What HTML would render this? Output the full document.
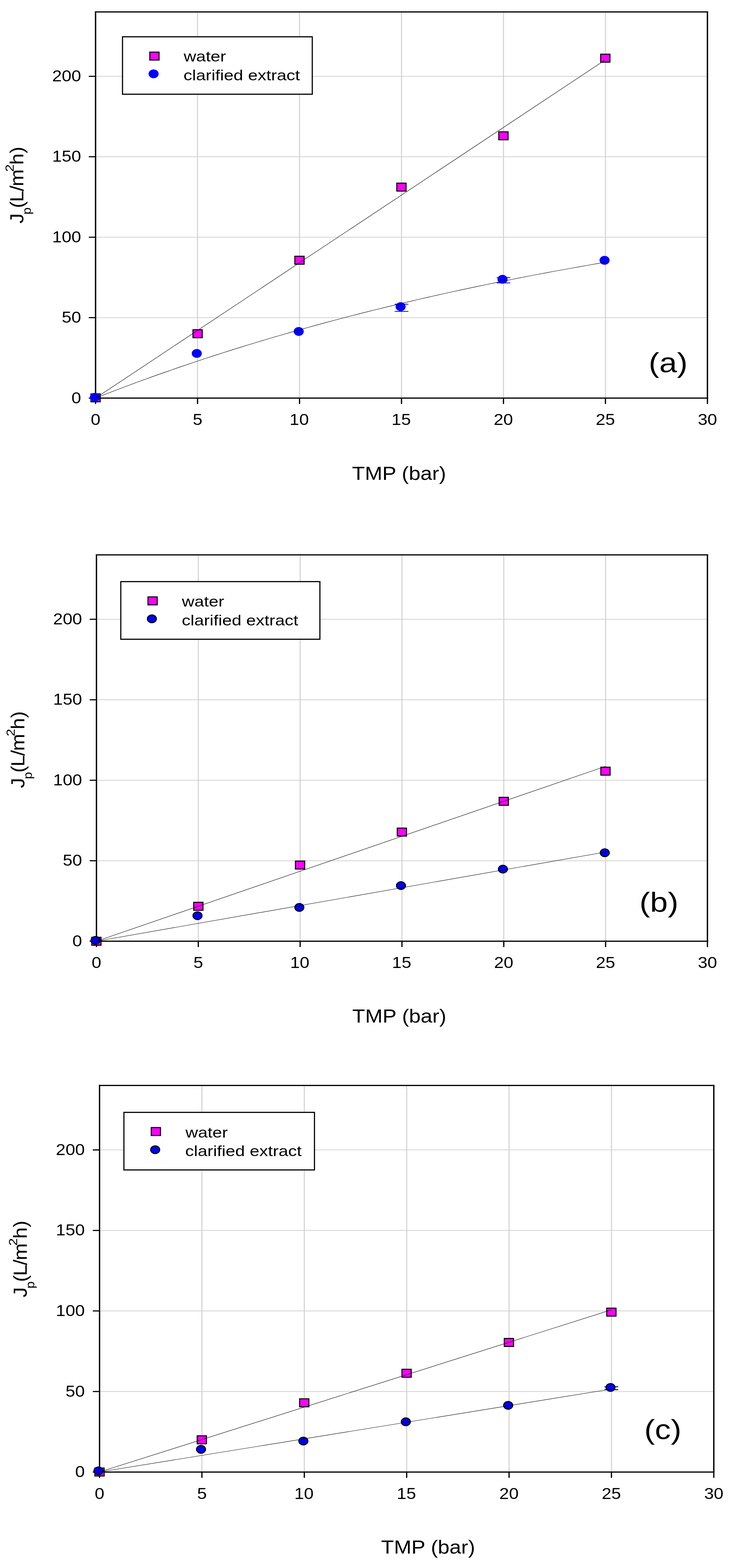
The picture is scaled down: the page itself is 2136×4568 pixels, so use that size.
<!DOCTYPE html>
<html><head><meta charset="utf-8"><title>Permeate flux vs TMP</title>
<style>html,body{margin:0;padding:0;background:#fff;}svg{display:block;}text{font-family:'Liberation Sans', Arial, sans-serif;fill:#000;}</style></head><body>
<svg width="2136" height="4568" viewBox="0 0 2136 4568">
<rect x="0" y="0" width="2136" height="4568" fill="#fff"/>
<g stroke="#d2d2d2" fill="none">
<line x1="575.67" y1="34.80" x2="575.67" y2="1159.80" stroke-width="3.0"/>
<line x1="872.83" y1="34.80" x2="872.83" y2="1159.80" stroke-width="3.0"/>
<line x1="1170.00" y1="34.80" x2="1170.00" y2="1159.80" stroke-width="3.0"/>
<line x1="1467.17" y1="34.80" x2="1467.17" y2="1159.80" stroke-width="3.0"/>
<line x1="1764.33" y1="34.80" x2="1764.33" y2="1159.80" stroke-width="3.0"/>
<line x1="278.50" y1="925.42" x2="2061.50" y2="925.42" stroke-width="2.2"/>
<line x1="278.50" y1="691.05" x2="2061.50" y2="691.05" stroke-width="2.2"/>
<line x1="278.50" y1="456.67" x2="2061.50" y2="456.67" stroke-width="2.2"/>
<line x1="278.50" y1="222.30" x2="2061.50" y2="222.30" stroke-width="2.2"/>
</g>
<g stroke="#000" fill="none">
<line x1="276.50" y1="34.80" x2="2063.50" y2="34.80" stroke-width="3.5"/>
<line x1="276.50" y1="1159.80" x2="2063.50" y2="1159.80" stroke-width="3.5"/>
<line x1="278.50" y1="33.10" x2="278.50" y2="1161.50" stroke-width="3.9"/>
<line x1="2061.50" y1="33.10" x2="2061.50" y2="1161.50" stroke-width="3.9"/>
<line x1="278.50" y1="1159.80" x2="278.50" y2="1175.40" stroke-width="3.6" stroke-linecap="round"/>
<line x1="575.67" y1="1159.80" x2="575.67" y2="1175.40" stroke-width="3.6" stroke-linecap="round"/>
<line x1="872.83" y1="1159.80" x2="872.83" y2="1175.40" stroke-width="3.6" stroke-linecap="round"/>
<line x1="1170.00" y1="1159.80" x2="1170.00" y2="1175.40" stroke-width="3.6" stroke-linecap="round"/>
<line x1="1467.17" y1="1159.80" x2="1467.17" y2="1175.40" stroke-width="3.6" stroke-linecap="round"/>
<line x1="1764.33" y1="1159.80" x2="1764.33" y2="1175.40" stroke-width="3.6" stroke-linecap="round"/>
<line x1="2061.50" y1="1159.80" x2="2061.50" y2="1175.40" stroke-width="3.6" stroke-linecap="round"/>
<line x1="278.50" y1="1159.80" x2="260.10" y2="1159.80" stroke-width="3.3" stroke-linecap="round"/>
<line x1="278.50" y1="925.42" x2="260.10" y2="925.42" stroke-width="3.3" stroke-linecap="round"/>
<line x1="278.50" y1="691.05" x2="260.10" y2="691.05" stroke-width="3.3" stroke-linecap="round"/>
<line x1="278.50" y1="456.67" x2="260.10" y2="456.67" stroke-width="3.3" stroke-linecap="round"/>
<line x1="278.50" y1="222.30" x2="260.10" y2="222.30" stroke-width="3.3" stroke-linecap="round"/>
</g>
<text transform="translate(208.18,1174.60) scale(1.1100,1)" font-size="45.5">0</text>
<text transform="translate(180.10,940.22) scale(1.1100,1)" font-size="45.5">50</text>
<text transform="translate(152.01,705.85) scale(1.1100,1)" font-size="45.5">100</text>
<text transform="translate(152.01,471.47) scale(1.1100,1)" font-size="45.5">150</text>
<text transform="translate(152.01,237.10) scale(1.1100,1)" font-size="45.5">200</text>
<text transform="translate(264.46,1237.90) scale(1.1100,1)" font-size="45.5">0</text>
<text transform="translate(561.67,1237.90) scale(1.1100,1)" font-size="45.5">5</text>
<text transform="translate(843.81,1237.90) scale(1.1100,1)" font-size="45.5">10</text>
<text transform="translate(1141.05,1237.90) scale(1.1100,1)" font-size="45.5">15</text>
<text transform="translate(1438.79,1237.90) scale(1.1100,1)" font-size="45.5">20</text>
<text transform="translate(1736.04,1237.90) scale(1.1100,1)" font-size="45.5">25</text>
<text transform="translate(2033.44,1237.90) scale(1.1100,1)" font-size="45.5">30</text>
<text transform="translate(1025.83,1397.60) scale(1.0920,1)" font-size="56.0">TMP (bar)</text>
<text transform="translate(68.00,651.20) rotate(-90) scale(1.09,1)"><tspan x="-0.03" dy="0.00" font-size="55.0">J</tspan><tspan x="24.01" dy="21.70" font-size="34.5">p</tspan><tspan x="41.27" dy="-21.70" font-size="55.0">(</tspan><tspan x="57.51" dy="0.00" font-size="55.0">L</tspan><tspan x="86.15" dy="0.00" font-size="55.0">/</tspan><tspan x="99.19" dy="0.00" font-size="55.0">m</tspan><tspan x="138.37" dy="-28.20" font-size="36.0">2</tspan><tspan x="156.83" dy="28.20" font-size="55.0">h</tspan><tspan x="187.29" dy="0.00" font-size="55.0">)</tspan></text>
<g stroke="#0000ff" stroke-width="2.2" stroke-linecap="round"><line x1="1151.20" y1="886.20" x2="1189.20" y2="886.20"/><line x1="1151.20" y1="907.20" x2="1189.20" y2="907.20"/><line x1="1170.20" y1="886.20" x2="1170.20" y2="907.20"/></g>
<g stroke="#0000ff" stroke-width="2.2" stroke-linecap="round"><line x1="1448.20" y1="808.60" x2="1486.20" y2="808.60"/><line x1="1448.20" y1="824.10" x2="1486.20" y2="824.10"/><line x1="1467.20" y1="808.60" x2="1467.20" y2="824.10"/></g>
<rect x="263.50" y="1145.90" width="30" height="26.2" fill="#000"/><rect x="266.50" y="1148.90" width="24" height="20.2" fill="#ff00ff"/>
<rect x="560.80" y="959.10" width="30" height="26.2" fill="#000"/><rect x="563.80" y="962.10" width="24" height="20.2" fill="#ff00ff"/>
<rect x="857.70" y="745.00" width="30" height="26.2" fill="#000"/><rect x="860.70" y="748.00" width="24" height="20.2" fill="#ff00ff"/>
<rect x="1154.80" y="532.00" width="30" height="26.2" fill="#000"/><rect x="1157.80" y="535.00" width="24" height="20.2" fill="#ff00ff"/>
<rect x="1452.00" y="382.50" width="30" height="26.2" fill="#000"/><rect x="1455.00" y="385.50" width="24" height="20.2" fill="#ff00ff"/>
<rect x="1748.90" y="156.40" width="30" height="26.2" fill="#000"/><rect x="1751.90" y="159.40" width="24" height="20.2" fill="#ff00ff"/>
<ellipse cx="276.50" cy="1157.40" rx="14.6" ry="12.9" fill="#0000ff"/>
<ellipse cx="573.40" cy="1029.70" rx="14.6" ry="12.9" fill="#0000ff"/>
<ellipse cx="870.50" cy="965.60" rx="14.6" ry="12.9" fill="#0000ff"/>
<ellipse cx="1167.40" cy="893.50" rx="14.6" ry="12.9" fill="#0000ff"/>
<ellipse cx="1464.40" cy="813.70" rx="14.6" ry="12.9" fill="#0000ff"/>
<ellipse cx="1761.70" cy="758.40" rx="14.6" ry="12.9" fill="#0000ff"/>
<polyline points="278.50,1159.70 1764.20,174.20" fill="none" stroke="#000" stroke-width="1.15"/>
<polyline points="278.50,1159.70 303.26,1150.01 328.02,1140.46 352.79,1131.03 377.55,1121.74 402.31,1112.58 427.07,1103.55 451.84,1094.64 476.60,1085.86 501.36,1077.20 526.12,1068.66 550.89,1060.24 575.65,1051.94 600.41,1043.75 625.17,1035.67 649.94,1027.71 674.70,1019.86 699.46,1012.12 724.23,1004.49 748.99,996.96 773.75,989.54 798.51,982.22 823.27,975.01 848.04,967.89 872.80,960.87 897.56,953.95 922.33,947.13 947.09,940.40 971.85,933.77 996.61,927.23 1021.38,920.78 1046.14,914.42 1070.90,908.15 1095.66,901.96 1120.42,895.86 1145.19,889.85 1169.95,883.92 1194.71,878.07 1219.47,872.31 1244.24,866.62 1269.00,861.02 1293.76,855.49 1318.53,850.04 1343.29,844.67 1368.05,839.37 1392.81,834.14 1417.58,828.99 1442.34,823.91 1467.10,818.89 1491.86,813.95 1516.62,809.08 1541.39,804.28 1566.15,799.54 1590.91,794.87 1615.67,790.26 1640.44,785.72 1665.20,781.24 1689.96,776.83 1714.73,772.47 1739.49,768.18 1764.25,763.95" fill="none" stroke="#000" stroke-width="1.15" stroke-linejoin="round"/>
<rect x="357.00" y="107.20" width="553.00" height="167.30" fill="#fff" stroke="#000" stroke-width="3.3"/>
<rect x="435.00" y="150.30" width="30" height="26.2" fill="#000"/><rect x="438.00" y="153.30" width="24" height="20.2" fill="#ff00ff"/>
<ellipse cx="447.60" cy="215.20" rx="14.6" ry="12.9" fill="#0000ff"/>
<text transform="translate(535.17,178.80) scale(1.1650,1)" font-size="43.3">water</text>
<text transform="translate(534.86,233.70) scale(1.1650,1)" font-size="43.3">clarified extract</text>
<text transform="translate(1890.35,1084.10) scale(1.1600,1)" font-size="80.0">(a)</text>
<g stroke="#d2d2d2" fill="none">
<line x1="577.83" y1="1616.60" x2="577.83" y2="2742.00" stroke-width="3.0"/>
<line x1="874.57" y1="1616.60" x2="874.57" y2="2742.00" stroke-width="3.0"/>
<line x1="1171.30" y1="1616.60" x2="1171.30" y2="2742.00" stroke-width="3.0"/>
<line x1="1468.03" y1="1616.60" x2="1468.03" y2="2742.00" stroke-width="3.0"/>
<line x1="1764.77" y1="1616.60" x2="1764.77" y2="2742.00" stroke-width="3.0"/>
<line x1="281.10" y1="2507.54" x2="2061.50" y2="2507.54" stroke-width="2.2"/>
<line x1="281.10" y1="2273.08" x2="2061.50" y2="2273.08" stroke-width="2.2"/>
<line x1="281.10" y1="2038.62" x2="2061.50" y2="2038.62" stroke-width="2.2"/>
<line x1="281.10" y1="1804.17" x2="2061.50" y2="1804.17" stroke-width="2.2"/>
</g>
<g stroke="#000" fill="none">
<line x1="279.10" y1="1616.60" x2="2063.50" y2="1616.60" stroke-width="3.5"/>
<line x1="279.10" y1="2742.00" x2="2063.50" y2="2742.00" stroke-width="3.5"/>
<line x1="281.10" y1="1614.90" x2="281.10" y2="2743.70" stroke-width="3.9"/>
<line x1="2061.50" y1="1614.90" x2="2061.50" y2="2743.70" stroke-width="3.9"/>
<line x1="281.10" y1="2742.00" x2="281.10" y2="2757.60" stroke-width="3.6" stroke-linecap="round"/>
<line x1="577.83" y1="2742.00" x2="577.83" y2="2757.60" stroke-width="3.6" stroke-linecap="round"/>
<line x1="874.57" y1="2742.00" x2="874.57" y2="2757.60" stroke-width="3.6" stroke-linecap="round"/>
<line x1="1171.30" y1="2742.00" x2="1171.30" y2="2757.60" stroke-width="3.6" stroke-linecap="round"/>
<line x1="1468.03" y1="2742.00" x2="1468.03" y2="2757.60" stroke-width="3.6" stroke-linecap="round"/>
<line x1="1764.77" y1="2742.00" x2="1764.77" y2="2757.60" stroke-width="3.6" stroke-linecap="round"/>
<line x1="2061.50" y1="2742.00" x2="2061.50" y2="2757.60" stroke-width="3.6" stroke-linecap="round"/>
<line x1="281.10" y1="2742.00" x2="262.70" y2="2742.00" stroke-width="3.3" stroke-linecap="round"/>
<line x1="281.10" y1="2507.54" x2="262.70" y2="2507.54" stroke-width="3.3" stroke-linecap="round"/>
<line x1="281.10" y1="2273.08" x2="262.70" y2="2273.08" stroke-width="3.3" stroke-linecap="round"/>
<line x1="281.10" y1="2038.62" x2="262.70" y2="2038.62" stroke-width="3.3" stroke-linecap="round"/>
<line x1="281.10" y1="1804.17" x2="262.70" y2="1804.17" stroke-width="3.3" stroke-linecap="round"/>
</g>
<text transform="translate(210.98,2756.80) scale(1.1100,1)" font-size="45.5">0</text>
<text transform="translate(182.90,2522.34) scale(1.1100,1)" font-size="45.5">50</text>
<text transform="translate(154.81,2287.88) scale(1.1100,1)" font-size="45.5">100</text>
<text transform="translate(154.81,2053.43) scale(1.1100,1)" font-size="45.5">150</text>
<text transform="translate(154.81,1818.97) scale(1.1100,1)" font-size="45.5">200</text>
<text transform="translate(267.06,2819.80) scale(1.1100,1)" font-size="45.5">0</text>
<text transform="translate(563.84,2819.80) scale(1.1100,1)" font-size="45.5">5</text>
<text transform="translate(845.54,2819.80) scale(1.1100,1)" font-size="45.5">10</text>
<text transform="translate(1142.35,2819.80) scale(1.1100,1)" font-size="45.5">15</text>
<text transform="translate(1439.66,2819.80) scale(1.1100,1)" font-size="45.5">20</text>
<text transform="translate(1736.47,2819.80) scale(1.1100,1)" font-size="45.5">25</text>
<text transform="translate(2033.44,2819.80) scale(1.1100,1)" font-size="45.5">30</text>
<text transform="translate(1026.53,2978.90) scale(1.0920,1)" font-size="56.0">TMP (bar)</text>
<text transform="translate(71.20,2295.90) rotate(-90) scale(1.09,1)"><tspan x="-0.03" dy="0.00" font-size="55.0">J</tspan><tspan x="24.01" dy="21.70" font-size="34.5">p</tspan><tspan x="41.27" dy="-21.70" font-size="55.0">(</tspan><tspan x="57.51" dy="0.00" font-size="55.0">L</tspan><tspan x="86.15" dy="0.00" font-size="55.0">/</tspan><tspan x="99.19" dy="0.00" font-size="55.0">m</tspan><tspan x="138.37" dy="-28.20" font-size="36.0">2</tspan><tspan x="156.83" dy="28.20" font-size="55.0">h</tspan><tspan x="187.29" dy="0.00" font-size="55.0">)</tspan></text>
<rect x="265.90" y="2729.10" width="30" height="26.2" fill="#000"/><rect x="268.90" y="2732.10" width="24" height="20.2" fill="#ff00ff"/>
<rect x="563.00" y="2627.20" width="30" height="26.2" fill="#000"/><rect x="566.00" y="2630.20" width="24" height="20.2" fill="#ff00ff"/>
<rect x="859.40" y="2507.00" width="30" height="26.2" fill="#000"/><rect x="862.40" y="2510.00" width="24" height="20.2" fill="#ff00ff"/>
<rect x="1156.10" y="2411.00" width="30" height="26.2" fill="#000"/><rect x="1159.10" y="2414.00" width="24" height="20.2" fill="#ff00ff"/>
<rect x="1453.00" y="2321.40" width="30" height="26.2" fill="#000"/><rect x="1456.00" y="2324.40" width="24" height="20.2" fill="#ff00ff"/>
<rect x="1749.40" y="2233.50" width="30" height="26.2" fill="#000"/><rect x="1752.40" y="2236.50" width="24" height="20.2" fill="#ff00ff"/>
<ellipse cx="278.40" cy="2739.40" rx="13.1" ry="11.2" fill="#0000ff" stroke="#000" stroke-width="3.1"/>
<ellipse cx="575.50" cy="2667.70" rx="13.1" ry="11.2" fill="#0000ff" stroke="#000" stroke-width="3.1"/>
<ellipse cx="872.30" cy="2643.60" rx="13.1" ry="11.2" fill="#0000ff" stroke="#000" stroke-width="3.1"/>
<ellipse cx="1168.50" cy="2580.00" rx="13.1" ry="11.2" fill="#0000ff" stroke="#000" stroke-width="3.1"/>
<ellipse cx="1465.50" cy="2532.00" rx="13.1" ry="11.2" fill="#0000ff" stroke="#000" stroke-width="3.1"/>
<ellipse cx="1762.30" cy="2484.30" rx="13.1" ry="11.2" fill="#0000ff" stroke="#000" stroke-width="3.1"/>
<polyline points="281.10,2742.00 1764.60,2232.50" fill="none" stroke="#000" stroke-width="1.15"/>
<polyline points="281.10,2742.00 1764.80,2482.20" fill="none" stroke="#000" stroke-width="1.15" stroke-linejoin="round"/>
<rect x="352.00" y="1694.40" width="580.20" height="167.90" fill="#fff" stroke="#000" stroke-width="3.3"/>
<rect x="429.70" y="1737.40" width="30" height="26.2" fill="#000"/><rect x="432.70" y="1740.40" width="24" height="20.2" fill="#ff00ff"/>
<ellipse cx="442.60" cy="1802.80" rx="13.1" ry="11.2" fill="#0000ff" stroke="#000" stroke-width="3.1"/>
<text transform="translate(530.07,1766.90) scale(1.1650,1)" font-size="43.3">water</text>
<text transform="translate(529.76,1821.90) scale(1.1650,1)" font-size="43.3">clarified extract</text>
<text transform="translate(1863.45,2656.20) scale(1.1600,1)" font-size="80.0">(b)</text>
<g stroke="#d2d2d2" fill="none">
<line x1="588.43" y1="3162.30" x2="588.43" y2="4288.40" stroke-width="3.0"/>
<line x1="886.77" y1="3162.30" x2="886.77" y2="4288.40" stroke-width="3.0"/>
<line x1="1185.10" y1="3162.30" x2="1185.10" y2="4288.40" stroke-width="3.0"/>
<line x1="1483.43" y1="3162.30" x2="1483.43" y2="4288.40" stroke-width="3.0"/>
<line x1="1781.77" y1="3162.30" x2="1781.77" y2="4288.40" stroke-width="3.0"/>
<line x1="290.10" y1="4053.80" x2="2080.10" y2="4053.80" stroke-width="2.2"/>
<line x1="290.10" y1="3819.19" x2="2080.10" y2="3819.19" stroke-width="2.2"/>
<line x1="290.10" y1="3584.59" x2="2080.10" y2="3584.59" stroke-width="2.2"/>
<line x1="290.10" y1="3349.98" x2="2080.10" y2="3349.98" stroke-width="2.2"/>
</g>
<g stroke="#000" fill="none">
<line x1="288.10" y1="3162.30" x2="2082.10" y2="3162.30" stroke-width="3.5"/>
<line x1="288.10" y1="4288.40" x2="2082.10" y2="4288.40" stroke-width="3.5"/>
<line x1="290.10" y1="3160.60" x2="290.10" y2="4290.10" stroke-width="3.9"/>
<line x1="2080.10" y1="3160.60" x2="2080.10" y2="4290.10" stroke-width="3.9"/>
<line x1="290.10" y1="4288.40" x2="290.10" y2="4304.00" stroke-width="3.6" stroke-linecap="round"/>
<line x1="588.43" y1="4288.40" x2="588.43" y2="4304.00" stroke-width="3.6" stroke-linecap="round"/>
<line x1="886.77" y1="4288.40" x2="886.77" y2="4304.00" stroke-width="3.6" stroke-linecap="round"/>
<line x1="1185.10" y1="4288.40" x2="1185.10" y2="4304.00" stroke-width="3.6" stroke-linecap="round"/>
<line x1="1483.43" y1="4288.40" x2="1483.43" y2="4304.00" stroke-width="3.6" stroke-linecap="round"/>
<line x1="1781.77" y1="4288.40" x2="1781.77" y2="4304.00" stroke-width="3.6" stroke-linecap="round"/>
<line x1="2080.10" y1="4288.40" x2="2080.10" y2="4304.00" stroke-width="3.6" stroke-linecap="round"/>
<line x1="290.10" y1="4288.40" x2="271.70" y2="4288.40" stroke-width="3.3" stroke-linecap="round"/>
<line x1="290.10" y1="4053.80" x2="271.70" y2="4053.80" stroke-width="3.3" stroke-linecap="round"/>
<line x1="290.10" y1="3819.19" x2="271.70" y2="3819.19" stroke-width="3.3" stroke-linecap="round"/>
<line x1="290.10" y1="3584.59" x2="271.70" y2="3584.59" stroke-width="3.3" stroke-linecap="round"/>
<line x1="290.10" y1="3349.98" x2="271.70" y2="3349.98" stroke-width="3.3" stroke-linecap="round"/>
</g>
<text transform="translate(218.98,4303.20) scale(1.1100,1)" font-size="45.5">0</text>
<text transform="translate(190.90,4068.60) scale(1.1100,1)" font-size="45.5">50</text>
<text transform="translate(162.81,3833.99) scale(1.1100,1)" font-size="45.5">100</text>
<text transform="translate(162.81,3599.39) scale(1.1100,1)" font-size="45.5">150</text>
<text transform="translate(162.81,3364.78) scale(1.1100,1)" font-size="45.5">200</text>
<text transform="translate(276.06,4366.80) scale(1.1100,1)" font-size="45.5">0</text>
<text transform="translate(574.44,4366.80) scale(1.1100,1)" font-size="45.5">5</text>
<text transform="translate(857.74,4366.80) scale(1.1100,1)" font-size="45.5">10</text>
<text transform="translate(1156.15,4366.80) scale(1.1100,1)" font-size="45.5">15</text>
<text transform="translate(1455.06,4366.80) scale(1.1100,1)" font-size="45.5">20</text>
<text transform="translate(1753.47,4366.80) scale(1.1100,1)" font-size="45.5">25</text>
<text transform="translate(2052.04,4366.80) scale(1.1100,1)" font-size="45.5">30</text>
<text transform="translate(1110.53,4525.90) scale(1.0920,1)" font-size="56.0">TMP (bar)</text>
<text transform="translate(77.90,3779.80) rotate(-90) scale(1.09,1)"><tspan x="-0.03" dy="0.00" font-size="55.0">J</tspan><tspan x="24.01" dy="21.70" font-size="34.5">p</tspan><tspan x="41.27" dy="-21.70" font-size="55.0">(</tspan><tspan x="57.51" dy="0.00" font-size="55.0">L</tspan><tspan x="86.15" dy="0.00" font-size="55.0">/</tspan><tspan x="99.19" dy="0.00" font-size="55.0">m</tspan><tspan x="138.37" dy="-28.20" font-size="36.0">2</tspan><tspan x="156.83" dy="28.20" font-size="55.0">h</tspan><tspan x="187.29" dy="0.00" font-size="55.0">)</tspan></text>
<g stroke="#000000" stroke-width="2.6" stroke-linecap="round"><line x1="1762.60" y1="4040.00" x2="1800.60" y2="4040.00"/><line x1="1762.60" y1="4048.50" x2="1800.60" y2="4048.50"/><line x1="1781.60" y1="4040.00" x2="1781.60" y2="4048.50"/></g>
<rect x="275.00" y="4275.30" width="30" height="26.2" fill="#000"/><rect x="278.00" y="4278.30" width="24" height="20.2" fill="#ff00ff"/>
<rect x="573.10" y="4181.40" width="30" height="26.2" fill="#000"/><rect x="576.10" y="4184.40" width="24" height="20.2" fill="#ff00ff"/>
<rect x="871.60" y="4073.60" width="30" height="26.2" fill="#000"/><rect x="874.60" y="4076.60" width="24" height="20.2" fill="#ff00ff"/>
<rect x="1169.80" y="3987.60" width="30" height="26.2" fill="#000"/><rect x="1172.80" y="3990.60" width="24" height="20.2" fill="#ff00ff"/>
<rect x="1468.00" y="3897.80" width="30" height="26.2" fill="#000"/><rect x="1471.00" y="3900.80" width="24" height="20.2" fill="#ff00ff"/>
<rect x="1766.60" y="3809.50" width="30" height="26.2" fill="#000"/><rect x="1769.60" y="3812.50" width="24" height="20.2" fill="#ff00ff"/>
<ellipse cx="287.00" cy="4285.10" rx="13.1" ry="11.2" fill="#0000ff" stroke="#000" stroke-width="3.1"/>
<ellipse cx="585.80" cy="4222.30" rx="13.1" ry="11.2" fill="#0000ff" stroke="#000" stroke-width="3.1"/>
<ellipse cx="884.00" cy="4198.20" rx="13.1" ry="11.2" fill="#0000ff" stroke="#000" stroke-width="3.1"/>
<ellipse cx="1182.60" cy="4142.10" rx="13.1" ry="11.2" fill="#0000ff" stroke="#000" stroke-width="3.1"/>
<ellipse cx="1480.80" cy="4094.20" rx="13.1" ry="11.2" fill="#0000ff" stroke="#000" stroke-width="3.1"/>
<ellipse cx="1779.00" cy="4042.00" rx="13.1" ry="11.2" fill="#0000ff" stroke="#000" stroke-width="3.1"/>
<polyline points="290.10,4288.30 1781.60,3815.90" fill="none" stroke="#000" stroke-width="1.15"/>
<polyline points="290.10,4288.30 1781.60,4046.70" fill="none" stroke="#000" stroke-width="1.15" stroke-linejoin="round"/>
<rect x="361.10" y="3240.60" width="555.30" height="167.70" fill="#fff" stroke="#000" stroke-width="3.3"/>
<rect x="439.20" y="3283.40" width="30" height="26.2" fill="#000"/><rect x="442.20" y="3286.40" width="24" height="20.2" fill="#ff00ff"/>
<ellipse cx="452.20" cy="3349.40" rx="13.1" ry="11.2" fill="#0000ff" stroke="#000" stroke-width="3.1"/>
<text transform="translate(540.57,3313.50) scale(1.1650,1)" font-size="43.3">water</text>
<text transform="translate(539.86,3368.30) scale(1.1650,1)" font-size="43.3">clarified extract</text>
<text transform="translate(1877.45,4192.10) scale(1.1600,1)" font-size="80.0">(c)</text>
</svg></body></html>
